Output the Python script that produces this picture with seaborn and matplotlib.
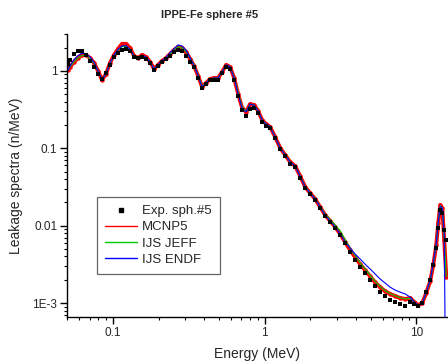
import numpy as np
import matplotlib
matplotlib.use("Agg")
import matplotlib.pyplot as plt
from matplotlib.lines import Line2D
from matplotlib.ticker import LogLocator, FuncFormatter, NullFormatter
import seaborn as sns
import pandas as pd

# Energy grid (MeV) shared by measurement and calculations
energy = [0.0505, 0.0520, 0.0553, 0.0587, 0.0624, 0.0663, 0.0705, 0.0749, 0.0796, 0.0846,
          0.0899, 0.0955, 0.1015, 0.1079, 0.1147, 0.1218, 0.1295, 0.1376, 0.1462, 0.1554,
          0.1651, 0.1755, 0.1865, 0.1982, 0.2106, 0.2238, 0.2378, 0.2527, 0.2685, 0.2854,
          0.3033, 0.3223, 0.3425, 0.3640, 0.3868, 0.4111, 0.4368, 0.4642, 0.4933, 0.5242,
          0.5571, 0.5920, 0.6291, 0.6685, 0.7104, 0.7549, 0.8022, 0.8525, 0.9060, 0.9627,
          1.023, 1.087,
          1.173, 1.266, 1.366, 1.473, 1.590, 1.715, 1.851, 1.997, 2.154, 2.324,
          2.508, 2.706, 2.920, 3.150, 3.399, 3.667, 3.957, 4.269, 4.606, 4.970,
          5.362, 5.785, 6.242, 6.735, 7.266, 7.840, 8.459, 9.127,
          9.70, 10.31, 10.96, 11.64, 12.37,
          12.95, 13.55, 13.97, 14.40, 14.85, 15.30, 15.78]

exp_sph5 = [1.23, 1.39, 1.66, 1.81, 1.81, 1.61, 1.35, 1.13, 0.915, 0.79,
            0.94, 1.20, 1.52, 1.71, 1.87, 1.93, 1.81, 1.52, 1.47, 1.52,
            1.43, 1.27, 1.03, 1.16, 1.31, 1.43, 1.56, 1.76, 1.87, 1.81,
            1.56, 1.31, 1.13, 0.81, 0.60, 0.68, 0.765, 0.765, 0.765, 0.94,
            1.13, 1.06, 0.765, 0.475, 0.313, 0.262, 0.322, 0.332, 0.286, 0.219,
            0.194, 0.183,
            0.136, 0.098, 0.0795, 0.0626, 0.0573, 0.0413, 0.0306, 0.0256, 0.0214, 0.0169,
            0.0133, 0.0111, 0.0093, 0.00755, 0.00595, 0.00455, 0.00359, 0.00291, 0.00244, 0.00198,
            0.00165, 0.00138, 0.00123, 0.00109, 0.00103, 0.00097, 0.00091, 0.00103,
            0.00097, 0.00091, 0.00100, 0.00138, 0.00198,
            0.00309, 0.00513, 0.0093, 0.0159, 0.0146, 0.0088, 0.0065]

mcnp5 = [1.03, 1.13, 1.31, 1.47, 1.61, 1.61, 1.47, 1.27, 1.00, 0.765,
         0.915, 1.27, 1.61, 1.93, 2.24, 2.24, 1.98, 1.56, 1.47, 1.61,
         1.52, 1.31, 1.06, 1.20, 1.35, 1.47, 1.66, 1.87, 2.05, 1.98,
         1.76, 1.43, 1.16, 0.862, 0.621, 0.700, 0.788, 0.812, 0.812, 0.971,
         1.196, 1.127, 0.812, 0.504, 0.332, 0.295, 0.374, 0.363, 0.304, 0.232,
         0.206, 0.189,
         0.140, 0.101, 0.082, 0.0665, 0.059, 0.0437, 0.0316, 0.0264, 0.0221, 0.0174,
         0.0137, 0.0115, 0.0096, 0.0078, 0.00613, 0.00482, 0.00390, 0.00317, 0.00265, 0.00221,
         0.00185, 0.00160, 0.00142, 0.00131, 0.00123, 0.00116, 0.00113, 0.00116,
         0.00103, 0.00094, 0.00100, 0.00135, 0.00192,
         0.00309, 0.00561, 0.0108, 0.0185, 0.0169, 0.0065, 0.0022]

ijs_jeff = [1.03, 1.13, 1.31, 1.47, 1.58, 1.58, 1.45, 1.25, 1.00, 0.77,
            0.92, 1.25, 1.58, 1.85, 2.05, 2.08, 1.90, 1.55, 1.47, 1.58,
            1.50, 1.30, 1.06, 1.19, 1.34, 1.46, 1.65, 1.88, 2.05, 1.98,
            1.78, 1.47, 1.20, 0.88, 0.63, 0.70, 0.79, 0.81, 0.81, 0.97,
            1.19, 1.13, 0.83, 0.53, 0.345, 0.298, 0.372, 0.362, 0.304, 0.232,
            0.206, 0.189,
            0.140, 0.101, 0.082, 0.0665, 0.059, 0.0440, 0.0318, 0.0266, 0.0223, 0.0177,
            0.0141, 0.0120, 0.0102, 0.0086, 0.0066, 0.0051, 0.0041, 0.0033, 0.00275, 0.00228,
            0.0019, 0.00163, 0.00144, 0.00132, 0.00124, 0.00117, 0.00113, 0.00115,
            0.00103, 0.00094, 0.00100, 0.00136, 0.00195,
            0.00318, 0.00570, 0.0110, 0.0182, 0.0169, 0.0068, 0.0022]

ijs_endf = [1.03, 1.15, 1.40, 1.58, 1.69, 1.66, 1.52, 1.29, 1.00, 0.77,
            0.92, 1.27, 1.60, 1.90, 2.10, 2.12, 1.90, 1.55, 1.47, 1.60,
            1.51, 1.31, 1.06, 1.20, 1.36, 1.50, 1.72, 1.93, 2.17, 2.10,
            1.85, 1.47, 1.18, 0.87, 0.62, 0.70, 0.79, 0.81, 0.81, 0.97,
            1.20, 1.13, 0.81, 0.50, 0.330, 0.295, 0.372, 0.362, 0.304, 0.232,
            0.206, 0.189,
            0.140, 0.101, 0.082, 0.0665, 0.059, 0.0437, 0.0316, 0.0264, 0.0221, 0.0174,
            0.0137, 0.0115, 0.0096, 0.0078, 0.00613, 0.00513, 0.00429, 0.00370, 0.00317, 0.00275,
            0.00237, 0.00204, 0.00181, 0.00160, 0.00147, 0.00138, 0.00131, 0.00119,
            0.00103, 0.00094, 0.00100, 0.00138, 0.00198,
            0.00328, 0.00581, 0.0111, 0.0179, 0.0169, 0.0076, 0.00001]

y_ticks = [0.001, 0.01, 0.1, 1]
y_tick_labels = ["1E-3", "0.01", "0.1", "1"]
x_ticks = [0.1, 1, 10]
x_tick_labels = ["0.1", "1", "10"]

sns.set_style("ticks")
plt.rcParams["font.family"] = ["Liberation Sans", "DejaVu Sans"]

fig = plt.figure(figsize=(4.48, 3.61), dpi=100)
ax = fig.add_axes([67 / 448, 1 - 317 / 361, 381 / 448, 283 / 361])

df_exp = pd.DataFrame({"E": energy, "flux": exp_sph5})

# MCNP5 drawn as a thick red band with small error-bar dots
sns.lineplot(x=energy, y=mcnp5, ax=ax, color="#ff0000", lw=2.8, sort=False,
             estimator=None, marker="o", markersize=3.2, markeredgewidth=0, zorder=2)
sns.lineplot(x=energy, y=ijs_jeff, ax=ax, color="#00cc00", lw=0.8, sort=False,
             estimator=None, zorder=2.5)
sns.lineplot(x=energy, y=ijs_endf, ax=ax, color="#0000ff", lw=0.8, sort=False,
             estimator=None, zorder=2.6)
sns.scatterplot(data=df_exp, x="E", y="flux", ax=ax, marker="s", s=12, color="black",
                edgecolor="black", linewidth=0, zorder=3)

ax.set_xscale("log")
ax.set_yscale("log")
ax.set_xlim(0.0497, 16.2)
ax.set_ylim(6.6e-4, 3.0)

ax.set_xticks(x_ticks)
ax.xaxis.set_major_formatter(FuncFormatter(lambda v, p: x_tick_labels[x_ticks.index(v)] if v in x_ticks else ""))
ax.set_yticks(y_ticks)
ax.yaxis.set_major_formatter(FuncFormatter(lambda v, p: y_tick_labels[y_ticks.index(v)] if v in y_ticks else ""))
ax.xaxis.set_minor_locator(LogLocator(base=10, subs=np.arange(2, 10), numticks=20))
ax.yaxis.set_minor_locator(LogLocator(base=10, subs=np.arange(2, 10), numticks=20))
ax.xaxis.set_minor_formatter(NullFormatter())
ax.yaxis.set_minor_formatter(NullFormatter())

ax.tick_params(which="major", length=5, width=1, labelsize=8.5, pad=2, color="black")
ax.tick_params(which="minor", length=2.5, width=0.8, color="black")
sns.despine(ax=ax, top=True, right=True)
for s in ["left", "bottom"]:
    ax.spines[s].set_linewidth(1.0)
    ax.spines[s].set_color("black")

ax.set_xlabel("Energy (MeV)", fontsize=10, labelpad=6)
ax.set_ylabel("Leakage spectra (n/MeV)", fontsize=10)
ax.yaxis.set_label_coords(-0.115, 0.5)

fig.text(210 / 448, 1 - 15 / 361, "IPPE-Fe sphere #5", ha="center", va="center",
         fontsize=8, fontweight="bold")

handles = [
    Line2D([], [], color="black", marker="s", markersize=3, linestyle="none"),
    Line2D([], [], color="#ff0000", lw=1),
    Line2D([], [], color="#00cc00", lw=1),
    Line2D([], [], color="#0000ff", lw=1),
]
labels = ["Exp. sph.#5", "MCNP5", "IJS JEFF", "IJS ENDF"]
leg = ax.legend(handles, labels, loc="upper left", bbox_to_anchor=(0.079, 0.424),
                borderaxespad=0, fontsize=9.5, frameon=True, fancybox=False,
                handlelength=2.4, handletextpad=0.4, labelspacing=0.3,
                borderpad=0.6)
leg.get_frame().set_edgecolor("#404040")
leg.get_frame().set_linewidth(0.9)

fig.savefig("out.png", dpi=100)
